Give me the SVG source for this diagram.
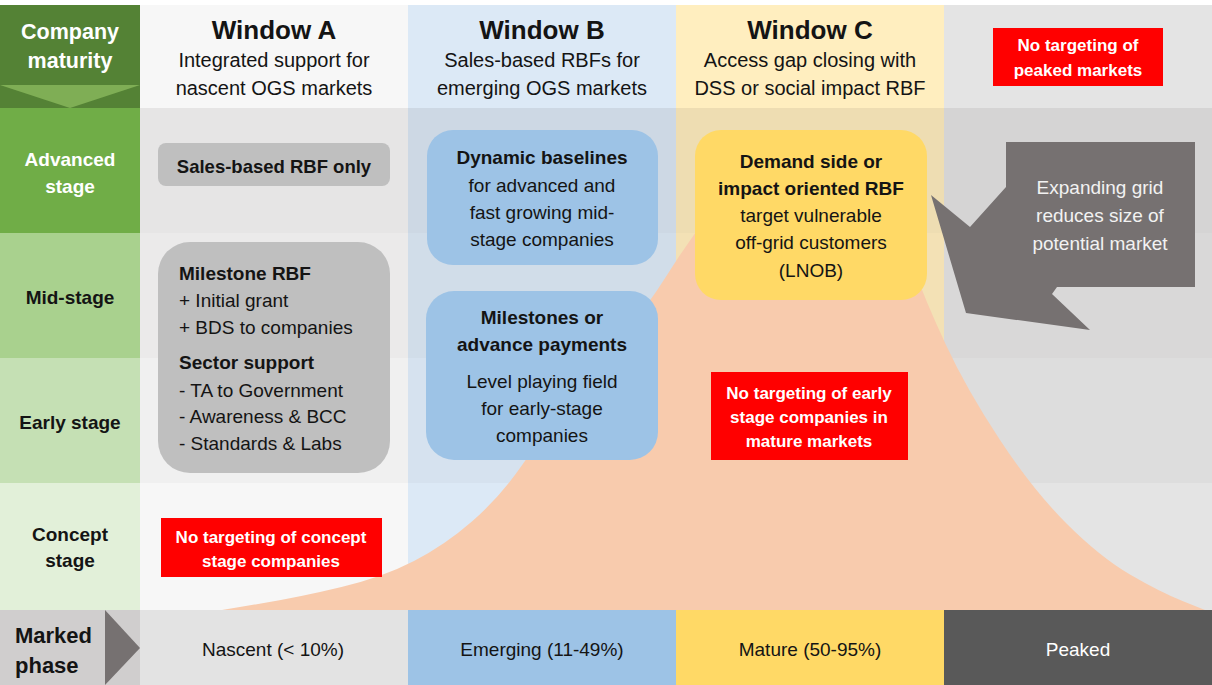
<svg xmlns="http://www.w3.org/2000/svg" width="1212" height="685" viewBox="0 0 1212 685">
<style>
text{font-family:"Liberation Sans",Arial,sans-serif;fill:#141414;}
.b{font-weight:bold;}
.t{font-size:26px;font-weight:bold;text-anchor:middle;}
.s{font-size:20px;text-anchor:middle;}
.m{font-size:19px;text-anchor:middle;}
.l{font-size:19px;}
.r{font-size:17px;font-weight:bold;text-anchor:middle;fill:#ffffff;}
.w{fill:#ffffff;}
.gb{fill:#bfbfbf;}
.bb{fill:#9dc3e6;}
.yb{fill:#ffd966;}
.rb{fill:#ff0000;}
</style>
<rect x="0" y="0" width="1212" height="685" fill="#ffffff"/>
<g id="columns">
<rect x="140" y="5" width="268" height="605" fill="#f7f7f7"/>
<rect x="408" y="5" width="268" height="605" fill="#dce9f6"/>
<rect x="676" y="5" width="268" height="605" fill="#ffeebf"/>
<rect x="944" y="5" width="268" height="605" fill="#e4e4e4"/>
<rect x="140" y="108" width="1072" height="125" fill="#2a1a1a" opacity="0.08"/>
<rect x="140" y="233" width="1072" height="125" fill="#2a1a1a" opacity="0.055"/>
<rect x="140" y="358" width="1072" height="125" fill="#2a1a1a" opacity="0.03"/>
</g>
<g id="row-labels">
<rect x="0" y="5" width="140" height="103" fill="#548235"/>
<polygon points="0,85 140,85 70,108" fill="#7fae55"/>
<text class="b w" x="70" y="39" font-size="21.5" text-anchor="middle">Company</text>
<text class="b w" x="70" y="68" font-size="21.5" text-anchor="middle">maturity</text>
<rect x="0" y="108" width="140" height="125" fill="#70ad47"/>
<text class="b w" x="70" y="166" font-size="19" text-anchor="middle">Advanced</text>
<text class="b w" x="70" y="193" font-size="19" text-anchor="middle">stage</text>
<rect x="0" y="233" width="140" height="125" fill="#a9d18e"/>
<text class="b" x="70" y="304" font-size="19" text-anchor="middle">Mid-stage</text>
<rect x="0" y="358" width="140" height="125" fill="#c5e0b4"/>
<text class="b" x="70" y="429" font-size="19" text-anchor="middle">Early stage</text>
<rect x="0" y="483" width="140" height="127" fill="#e2f0d9"/>
<text class="b" x="70" y="541" font-size="19" text-anchor="middle">Concept</text>
<text class="b" x="70" y="567" font-size="19" text-anchor="middle">stage</text>
</g>
<g id="market-curve">
<path d="M 222,610 L 261,603.5 Q 300,597 341.5,587 Q 383,577 414,561 Q 445,545 472.5,521 Q 500,497 522.5,464.5 Q 545,432 572.5,397 Q 600,362 622.5,336 Q 645,310 669,272 Q 693,234 719,201 Q 745,168 775,151 Q 805,134 832.5,144.5 Q 860,155 880,192.5 Q 900,230 912.5,265 Q 925,300 946,345 Q 967,390 1000,440 Q 1033,490 1066.5,523.5 Q 1100,557 1130,574.5 Q 1160,592 1182.5,601 L 1205,610 Z" fill="#f8cbad"/>
</g>
<g id="window-a-header">
<text class="t" x="274" y="39">Window A</text>
<text class="s" x="274" y="67">Integrated support for</text>
<text class="s" x="274" y="95">nascent OGS markets</text>
</g>
<g id="window-b-header">
<text class="t" x="542" y="39">Window B</text>
<text class="s" x="542" y="67">Sales-based RBFs for</text>
<text class="s" x="542" y="95">emerging OGS markets</text>
</g>
<g id="window-c-header">
<text class="t" x="810" y="39">Window C</text>
<text class="s" x="810" y="67">Access gap closing with</text>
<text class="s" x="810" y="95">DSS or social impact RBF</text>
</g>
<g id="no-peaked">
<rect class="rb" x="993" y="28" width="170" height="58"/>
<text class="r" x="1078" y="51">No targeting of</text>
<text class="r" x="1078" y="76">peaked markets</text>
</g>
<g id="sales-rbf-only">
<rect class="gb" x="158" y="143" width="232" height="43" rx="8"/>
<text class="b" x="274" y="173" font-size="18.5" text-anchor="middle">Sales-based RBF only</text>
</g>
<g id="milestone-rbf">
<rect class="gb" x="158" y="242" width="232" height="231" rx="32"/>
<text class="l b" x="179" y="280">Milestone RBF</text>
<text class="l" x="179" y="307">+ Initial grant</text>
<text class="l" x="179" y="334">+ BDS to companies</text>
<text class="l b" x="179" y="369">Sector support</text>
<text class="l" x="179" y="397">- TA to Government</text>
<text class="l" x="179" y="423">- Awareness &amp; BCC</text>
<text class="l" x="179" y="450">- Standards &amp; Labs</text>
</g>
<g id="dynamic-baselines">
<rect class="bb" x="427" y="130" width="231" height="135" rx="26"/>
<text class="m b" x="542" y="164">Dynamic baselines</text>
<text class="m" x="542" y="192">for advanced and</text>
<text class="m" x="542" y="219">fast growing mid-</text>
<text class="m" x="542" y="246">stage companies</text>
</g>
<g id="milestones-advance">
<rect class="bb" x="426" y="291" width="232" height="169" rx="28"/>
<text class="m b" x="542" y="324">Milestones or</text>
<text class="m b" x="542" y="351">advance payments</text>
<text class="m" x="542" y="388">Level playing field</text>
<text class="m" x="542" y="415">for early-stage</text>
<text class="m" x="542" y="442">companies</text>
</g>
<g id="demand-side">
<rect class="yb" x="695" y="130" width="232" height="170" rx="26"/>
<text class="m b" x="811" y="168">Demand side or</text>
<text class="m b" x="811" y="195">impact oriented RBF</text>
<text class="m" x="811" y="222">target vulnerable</text>
<text class="m" x="811" y="249">off-grid customers</text>
<text class="m" x="811" y="277">(LNOB)</text>
</g>
<g id="no-early-mature">
<rect class="rb" x="711" y="372" width="197" height="88"/>
<text class="r" x="809" y="399">No targeting of early</text>
<text class="r" x="809" y="423">stage companies in</text>
<text class="r" x="809" y="447">mature markets</text>
</g>
<g id="no-concept">
<rect class="rb" x="161" y="518" width="221" height="59"/>
<text class="r" x="271" y="543">No targeting of concept</text>
<text class="r" x="271" y="567">stage companies</text>
</g>
<g id="expanding-grid">
<polygon points="1006,142 1195,142 1195,287 1057,287 1052,294 1090,330 966,313 931,195 970,227 1006,187" fill="#767171"/>
<text class="m" x="1100" y="194" fill="#f2f2f2" style="fill:#f2f2f2">Expanding grid</text>
<text class="m" x="1100" y="222" style="fill:#f2f2f2">reduces size of</text>
<text class="m" x="1100" y="250" style="fill:#f2f2f2">potential market</text>
</g>
<g id="market-phase">
<rect x="0" y="610" width="140" height="75" fill="#d0cece"/>
<polygon points="105,610 140,648 105,685" fill="#767171"/>
<text class="b" x="15" y="643" font-size="22">Marked</text>
<text class="b" x="15" y="673" font-size="22">phase</text>
<rect x="140" y="610" width="268" height="75" fill="#e3e3e3"/>
<text class="m" x="273" y="656">Nascent (&lt; 10%)</text>
<rect x="408" y="610" width="268" height="75" fill="#9dc3e6"/>
<text class="m" x="542" y="656">Emerging (11-49%)</text>
<rect x="676" y="610" width="268" height="75" fill="#ffd966"/>
<text class="m" x="810" y="656">Mature (50-95%)</text>
<rect x="944" y="610" width="268" height="75" fill="#595959"/>
<text class="m" x="1078" y="656" style="fill:#ffffff">Peaked</text>
</g>
<g id="connectors"></g>
</svg>
